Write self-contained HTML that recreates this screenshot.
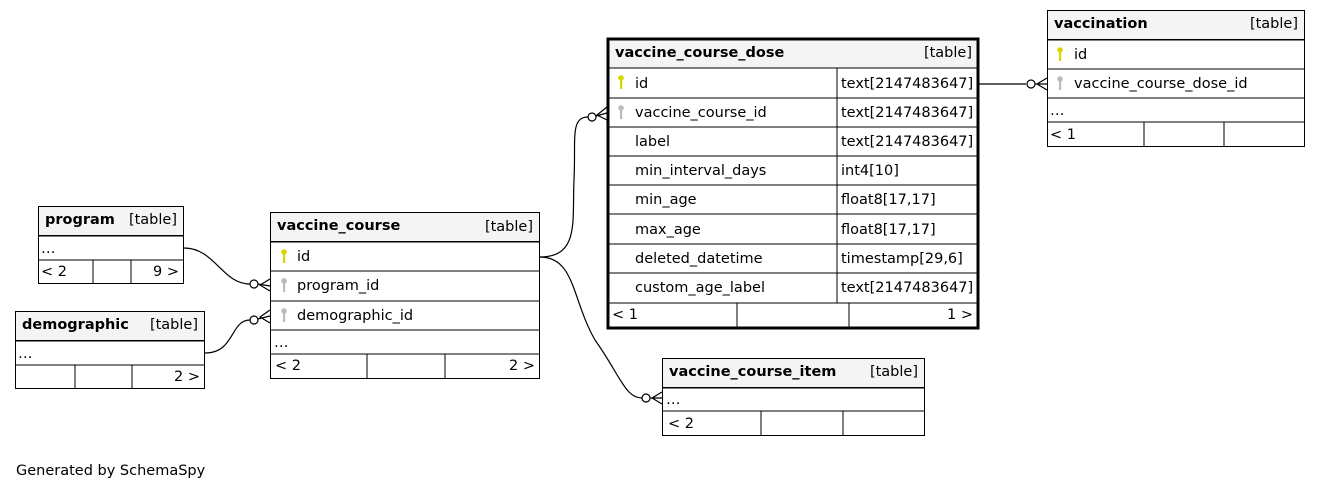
<!DOCTYPE html>
<html><head><meta charset="utf-8"><style>
body{margin:0;background:#fff}
svg{display:block}
text{font-family:"DejaVu Sans",sans-serif;font-size:14.5px;fill:#000}
.b{font-weight:bold}
</style></head><body>
<svg width="1320" height="491" viewBox="0 0 1320 491">
<defs>
<g id="pk"><circle cx="0" cy="-3" r="2.8" fill="#d6d600"/><rect x="-1" y="-2" width="2.2" height="10" fill="#d6d600"/></g>
<g id="fk"><circle cx="0" cy="-3" r="2.8" fill="#bbb"/><rect x="-1" y="-2" width="2.2" height="10" fill="#bbb"/></g>
</defs>
<g fill="none" stroke="#000" stroke-width="1.2">
<path d="M979,84 L1026,84"/>
<circle cx="1031" cy="84" r="4" fill="#fff"/>
<path d="M1035,84 L1047,84 M1047,78 L1037,84 L1047,90"/>
<path d="M540,257 C580,257 572,220 574,180 C576,140 570,117 588,117"/>
<circle cx="592" cy="117" r="4" fill="#fff"/>
<path d="M596,116 L607,113 M607,107 L597,115 L607,120"/>
<path d="M540,257 C575,257 572,300 595,340 C620,375 625,398 642,398"/>
<circle cx="646" cy="398" r="4" fill="#fff"/>
<path d="M650,398 L662,398 M662,392 L652,398 L662,404"/>
<path d="M184,248 C215,248 222,284 250,284"/>
<circle cx="254" cy="284" r="4" fill="#fff"/>
<path d="M258,284 L270,286 M270,279 L260,285 L270,291"/>
<path d="M205,353 C235,353 230,320 250,320"/>
<circle cx="254" cy="320" r="4" fill="#fff"/>
<path d="M258,319 L270,316 M270,310 L260,317 L270,323"/>
</g>

<g stroke="#000" stroke-width="1" fill="none">
<rect x="1047.5" y="10.5" width="257" height="29" fill="#f4f4f4"/>
<rect x="1047.5" y="10.5" width="257" height="136"/>
<path d="M1047,40H1305M1047,69H1305M1047,98H1305M1047,122H1305M1144,122V147M1224,122V147"/>
</g>
<text x="1054" y="28" class="b">vaccination</text><text x="1298" y="28" text-anchor="end">[table]</text>
<use href="#pk" x="1060" y="53"/><text x="1074" y="59">id</text>
<use href="#fk" x="1060" y="82"/><text x="1074" y="88">vaccine_course_dose_id</text>
<text x="1050" y="115">…</text><text x="1050" y="139">&lt; 1</text>

<g stroke="#000" stroke-width="1" fill="none">
<rect x="608" y="39" width="370" height="29" fill="#f4f4f4"/>
<path d="M607,68H979M607,98H979M607,127H979M607,156H979M607,185H979M607,214H979M607,244H979M607,273H979M607,303H979M837,68V303M737,303V329M849,303V329"/>
<rect x="608" y="39" width="370" height="289" stroke-width="3"/>
</g>
<text x="615" y="57" class="b">vaccine_course_dose</text><text x="972" y="57" text-anchor="end">[table]</text>
<use href="#pk" x="621" y="81"/><text x="635" y="88">id</text><text x="841" y="88">text[2147483647]</text>
<use href="#fk" x="621" y="111"/><text x="635" y="117">vaccine_course_id</text><text x="841" y="117">text[2147483647]</text>
<text x="635" y="146">label</text><text x="841" y="146">text[2147483647]</text>
<text x="635" y="175">min_interval_days</text><text x="841" y="175">int4[10]</text>
<text x="635" y="204">min_age</text><text x="841" y="204">float8[17,17]</text>
<text x="635" y="234">max_age</text><text x="841" y="234">float8[17,17]</text>
<text x="635" y="263">deleted_datetime</text><text x="841" y="263">timestamp[29,6]</text>
<text x="635" y="292">custom_age_label</text><text x="841" y="292">text[2147483647]</text>
<text x="612" y="319">&lt; 1</text><text x="973" y="319" text-anchor="end">1 &gt;</text>

<g stroke="#000" stroke-width="1" fill="none">
<rect x="38.5" y="206.5" width="145" height="29" fill="#f4f4f4"/>
<rect x="38.5" y="206.5" width="145" height="77"/>
<path d="M38,236H184M38,260H184M93,260V284M131,260V284"/>
</g>
<text x="45" y="224" class="b">program</text><text x="177" y="224" text-anchor="end">[table]</text>
<text x="41" y="253">…</text><text x="41" y="276">&lt; 2</text><text x="179" y="276" text-anchor="end">9 &gt;</text>

<g stroke="#000" stroke-width="1" fill="none">
<rect x="15.5" y="311.5" width="189" height="29" fill="#f4f4f4"/>
<rect x="15.5" y="311.5" width="189" height="77"/>
<path d="M15,341H205M15,365H205M75,365V389M132,365V389"/>
</g>
<text x="22" y="329" class="b">demographic</text><text x="198" y="329" text-anchor="end">[table]</text>
<text x="18" y="358">…</text><text x="200" y="381" text-anchor="end">2 &gt;</text>

<g stroke="#000" stroke-width="1" fill="none">
<rect x="270.5" y="212.5" width="269" height="29" fill="#f4f4f4"/>
<rect x="270.5" y="212.5" width="269" height="166"/>
<path d="M270,242H540M270,271H540M270,301H540M270,330H540M270,354H540M367,354V379M445,354V379"/>
</g>
<text x="277" y="230" class="b">vaccine_course</text><text x="533" y="231" text-anchor="end">[table]</text>
<use href="#pk" x="284" y="255"/><text x="297" y="261">id</text>
<use href="#fk" x="284" y="284"/><text x="297" y="290">program_id</text>
<use href="#fk" x="284" y="314"/><text x="297" y="320">demographic_id</text>
<text x="274" y="347">…</text><text x="275" y="370">&lt; 2</text><text x="535" y="370" text-anchor="end">2 &gt;</text>

<g stroke="#000" stroke-width="1" fill="none">
<rect x="662.5" y="358.5" width="262" height="29" fill="#f4f4f4"/>
<rect x="662.5" y="358.5" width="262" height="77"/>
<path d="M662,388H925M662,411H925M761,411V436M843,411V436"/>
</g>
<text x="669" y="376" class="b">vaccine_course_item</text><text x="918" y="376" text-anchor="end">[table]</text>
<text x="666" y="404">…</text><text x="668" y="428">&lt; 2</text>

<text x="16" y="475">Generated by SchemaSpy</text>
</svg>
</body></html>
